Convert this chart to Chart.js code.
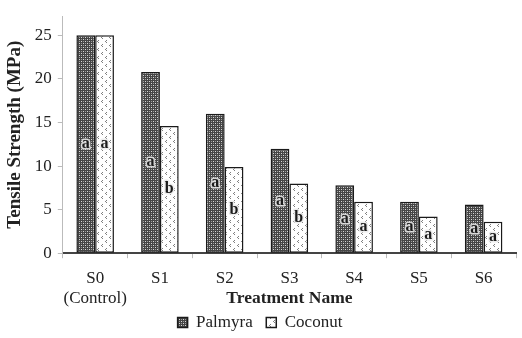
<!DOCTYPE html>
<html>
<head>
<meta charset="utf-8">
<script src="https://cdn.jsdelivr.net/npm/chart.js@4"></script>
<style>
  html, body { margin: 0; padding: 0; background: #fff; }
</style>
</head>
<body>
<canvas id="chart" width="522" height="338"></canvas>
<script>
// data
const treatments = [["S0", "(Control)"], "S1", "S2", "S3", "S4", "S5", "S6"];
const palmyra = [25, 20.8, 16.0, 12.0, 7.8, 5.9, 5.6];
const coconut = [25, 14.6, 9.9, 8.0, 5.9, 4.2, 3.6];
const palmyraLetters = ["a", "a", "a", "a", "a", "a", "a"];
const coconutLetters = ["a", "b", "b", "b", "a", "a", "a"];
const yTicks = [0, 5, 10, 15, 20, 25];

const ctx = document.getElementById("chart").getContext("2d");

// fill patterns like the Excel ones
const darkHatch = ctx.createPattern((function () {
  const c = document.createElement("canvas");
  c.width = 4; c.height = 4;
  const g = c.getContext("2d");
  g.fillStyle = "#454545";
  g.fillRect(0, 0, 4, 4);
  g.fillStyle = "#d8d8d8";
  g.fillRect(1, 1, 1, 1);
  g.fillRect(3, 3, 1, 1);
  g.fillStyle = "#9a9a9a";
  g.fillRect(3, 1, 1, 1);
  g.fillRect(1, 3, 1, 1);
  return c;
})(), "repeat");

const lightChevron = ctx.createPattern((function () {
  const c = document.createElement("canvas");
  c.width = 8; c.height = 8;
  const g = c.getContext("2d");
  g.fillStyle = "#ffffff";
  g.fillRect(0, 0, 8, 8);
  g.fillStyle = "#808080";
  g.fillRect(2, 0, 1, 1);
  g.fillRect(1, 1, 1, 1);
  g.fillRect(2, 2, 1, 1);
  g.fillRect(6, 4, 1, 1);
  g.fillRect(5, 5, 1, 1);
  g.fillRect(6, 6, 1, 1);
  return c;
})(), "repeat");

// letters in the middle of every bar
const letterPlugin = {
  id: "letters",
  afterDatasetsDraw(chart) {
    const c = chart.ctx;
    c.save();
    c.font = "bold 16px 'Liberation Serif', serif";
    c.textAlign = "center";
    c.textBaseline = "middle";
    c.lineJoin = "round";
    [palmyraLetters, coconutLetters].forEach((letters, di) => {
      chart.getDatasetMeta(di).data.forEach((bar, i) => {
        const y = (bar.y + bar.base) / 2;
        c.strokeStyle = "rgba(235,235,235,0.85)";
        c.lineWidth = 3;
        c.strokeText(letters[i], bar.x, y);
        c.fillStyle = "#1a1a1a";
        c.fillText(letters[i], bar.x, y);
      });
    });
    c.restore();
  }
};

Chart.defaults.font.family = "'Liberation Serif', 'Times New Roman', serif";
Chart.defaults.color = "#222";

new Chart(ctx, {
  type: "bar",
  data: {
    labels: treatments,
    datasets: [
      {
        label: "Palmyra",
        data: palmyra,
        backgroundColor: darkHatch,
        borderColor: "#1a1a1a",
        borderWidth: 1.5,
        borderSkipped: false
      },
      {
        label: "Coconut",
        data: coconut,
        backgroundColor: lightChevron,
        borderColor: "#1a1a1a",
        borderWidth: 1.5,
        borderSkipped: false
      }
    ]
  },
  options: {
    responsive: false,
    animation: false,
    layout: { padding: { left: 4, right: 6, top: 0, bottom: -3 } },
    datasets: {
      bar: { categoryPercentage: 0.58, barPercentage: 1.0 }
    },
    plugins: {
      tooltip: { enabled: false },
      legend: {
        position: "bottom",
        labels: {
          boxWidth: 10,
          boxHeight: 10,
          padding: 5,
          font: { size: 17 },
          color: "#222",
          // a little extra room between the two entries
          generateLabels: (chart) => {
            const items = Chart.defaults.plugins.legend.labels.generateLabels(chart);
            items[0].text = items[0].text + "  ";
            return items;
          }
        }
      }
    },
    scales: {
      x: {
        grid: { drawOnChartArea: false, drawTicks: true, tickLength: 5, color: "#bbb", offset: true },
        border: { color: "#444", width: 2 },
        ticks: { font: { size: 17 }, padding: 10, maxRotation: 0, autoSkip: false },
        title: {
          display: true,
          text: "Treatment Name",
          font: { size: 17.5, weight: "bold" },
          padding: { top: -31, bottom: 0 }
        }
      },
      y: {
        min: 0,
        max: 27.2,
        afterBuildTicks: (axis) => {
          axis.ticks = yTicks.map((v) => ({ value: v }));
        },
        grid: { drawOnChartArea: false, drawTicks: true, tickLength: 5, color: "#bbb" },
        border: { color: "#bbb", width: 1 },
        ticks: { font: { size: 17 }, padding: 6 },
        title: {
          display: true,
          text: "Tensile Strength (MPa)",
          font: { size: 19, weight: "bold" },
          padding: { top: 0, bottom: 2 }
        }
      }
    }
  },
  plugins: [letterPlugin]
});
</script>
</body>
</html>
